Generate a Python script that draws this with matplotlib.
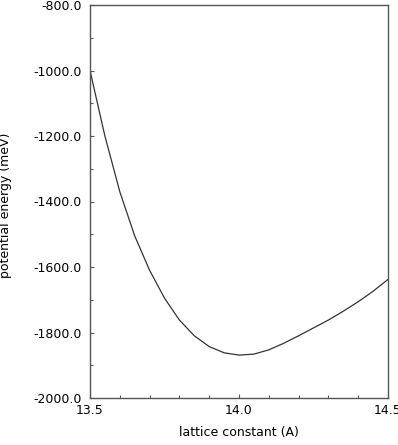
import matplotlib
matplotlib.use("Agg")
import matplotlib.pyplot as plt
from matplotlib.ticker import MultipleLocator, FormatStrFormatter

lattice = [13.50, 13.55, 13.60, 13.65, 13.70, 13.75, 13.80, 13.85, 13.90, 13.95, 14.00,
           14.05, 14.10, 14.15, 14.20, 14.25, 14.30, 14.35, 14.40, 14.45, 14.50]
energy = [-1000, -1200, -1370, -1505, -1610, -1695, -1762, -1810, -1843, -1862, -1869,
          -1866, -1853, -1833, -1810, -1786, -1762, -1735, -1706, -1674, -1638]

plt.rcParams['font.family'] = ['DejaVu Sans']
plt.rcParams['font.size'] = 9

fig = plt.figure(figsize=(3.98, 4.45), dpi=100)
ax = fig.add_axes([90/398, 1-398/445, (388-90)/398, (398-5)/445])

ax.plot(lattice, energy, color='#333333', lw=0.9)
ax.set_xlim(13.5, 14.5)
ax.set_ylim(-2000, -800)

ax.xaxis.set_major_locator(MultipleLocator(0.5))
ax.xaxis.set_minor_locator(MultipleLocator(0.1))
ax.yaxis.set_major_locator(MultipleLocator(200))
ax.yaxis.set_minor_locator(MultipleLocator(100))
ax.xaxis.set_major_formatter(FormatStrFormatter('%.1f'))
ax.yaxis.set_major_formatter(FormatStrFormatter('%.1f'))

ax.tick_params(which='both', direction='in', color='#555555', top=False, right=False)
ax.tick_params(which='major', length=3, width=0.8, pad=4)
ax.tick_params(which='minor', length=2.2, width=0.8)
ax.tick_params(axis='y', pad=6)
for s in ax.spines.values():
    s.set_color('#555555')
    s.set_linewidth(1.0)

ax.set_xlabel('lattice constant (A)', fontsize=9)
ax.set_ylabel('potential energy (meV)', fontsize=9)
ax.xaxis.set_label_coords(0.5, (398-426)/393)
ax.yaxis.set_label_coords((12-90)/298, 0.49)

fig.savefig('out.png', dpi=100)
